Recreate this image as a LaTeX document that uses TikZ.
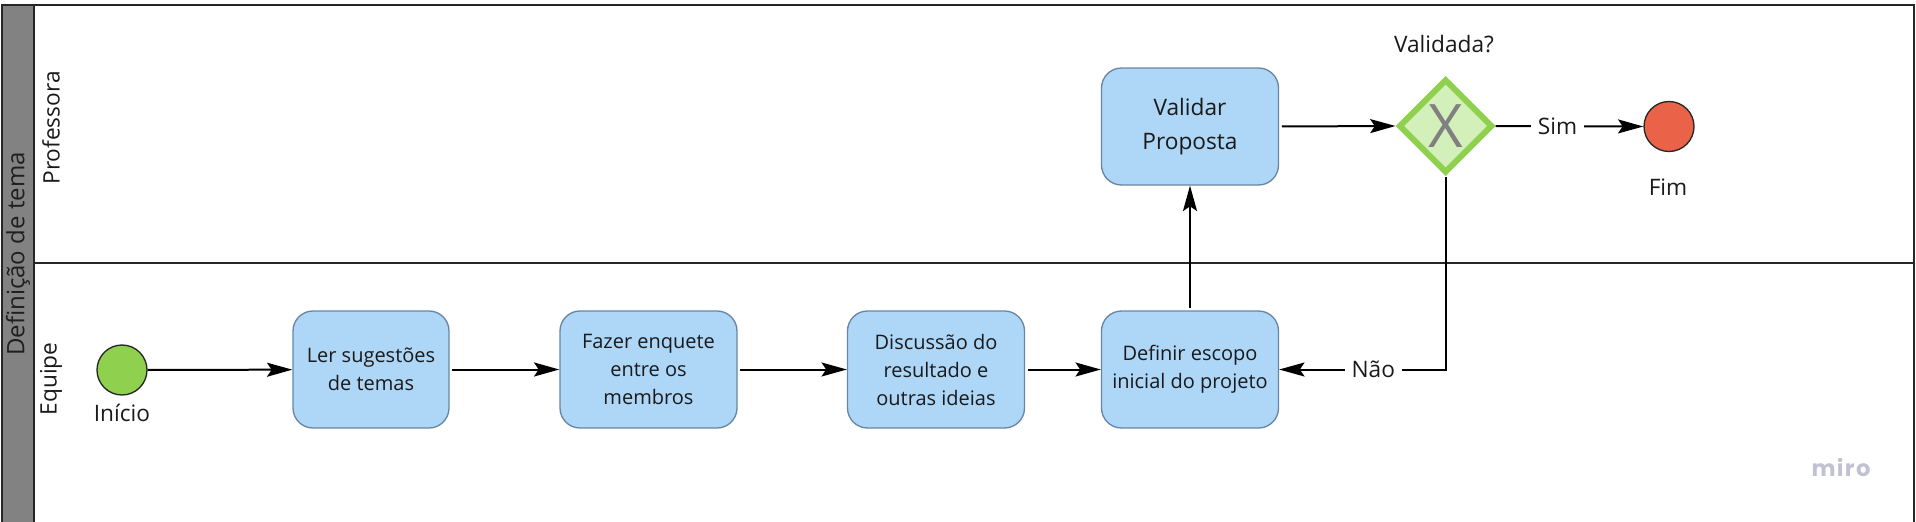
\documentclass[tikz,border=0pt]{standalone}
\usepackage{fontspec}
\setmainfont{Open Sans}
\newfontfamily\mirofont[LetterSpace=6]{Poppins}
\usetikzlibrary{arrows.meta,shapes.geometric}

\definecolor{taskfill}{RGB}{173,214,247}
\definecolor{taskdraw}{RGB}{105,135,165}
\definecolor{startgreen}{RGB}{143,209,79}
\definecolor{endred}{RGB}{234,99,72}
\definecolor{gwfill}{RGB}{212,240,186}
\definecolor{gwdraw}{RGB}{143,209,79}
\definecolor{poolgray}{RGB}{130,130,130}
\definecolor{txt}{RGB}{26,26,26}
\definecolor{mirogray}{RGB}{192,194,212}
\definecolor{xgray}{RGB}{128,128,128}

\begin{document}
\begin{tikzpicture}[x=0.75pt,y=-0.75pt,
  task/.style={rectangle,rounded corners=15pt,draw=taskdraw,line width=1pt,
    fill=taskfill,minimum width=132.75pt,minimum height=87.75pt,align=center,
    font=\fontsize{15}{21}\selectfont,text=txt,inner sep=0pt},
  bigtask/.style={task,font=\fontsize{17}{25}\selectfont},
  event/.style={circle,draw=black!85,line width=1pt,minimum size=37.5pt,inner sep=0pt},
  gateway/.style={diamond,draw=gwdraw,fill=gwfill,line width=4.5pt,
    minimum width=70.5pt,minimum height=70.5pt,inner sep=0pt,text=xgray,
    font=\fontsize{45}{45}\selectfont},
  lbl/.style={font=\fontsize{17}{20}\selectfont,text=txt,inner sep=1pt},
  lanelbl/.style={font=\fontsize{17}{20}\selectfont,text=txt,rotate=90,inner sep=0pt},
  flow/.style={line width=1.5pt,-{Stealth[length=19pt,width=10.5pt,inset=3.5pt]}},
  gaplbl/.style={lbl,fill=white,inner xsep=5pt,inner ysep=2pt},
  poolline/.style={line width=1.2pt,draw=black!85}
]
\useasboundingbox (0,0) rectangle (1916,521);
\clip (0,0) rectangle (1916,521);

% pool and lanes
\fill[white] (0,0) rectangle (1916,521);
\draw[poolline,fill=poolgray] (2,5) rectangle (34,560);
\draw[poolline] (34,5) rectangle (1914,560);
\coordinate (sepL) at (34,263);
\coordinate (sepR) at (1914,263);
\draw[poolline] (sepL) -- (sepR);

\node[lanelbl,text=black!88,font=\fontsize{18}{20}\selectfont] (pool) at (18,254) {Definição de tema};
\node[lanelbl] (lprof) at (51,128) {Professora};
\node[lanelbl] (lequipe) at (51,379) {Equipe};

% nodes
\node[event,fill=startgreen] (start) at (122,370) {};
\node[lbl] (inicio) at (122,413) {Início};

\node[task,minimum width=117pt] (b1) at (371,369.5) {Ler sugestões\\de temas};
\node[task] (b2) at (648.5,369.5) {Fazer enquete\\entre os\\membros};
\node[task] (b3) at (936,369.5) {Discussão do\\resultado e\\outras ideias};
\node[task] (b4) at (1190,369.5) {Definir escopo\\inicial do projeto};
\node[bigtask] (val) at (1190,126.5) {Validar\\Proposta};

\node[gateway] (gw) at (1445.5,126) {X};
\node[lbl] (gwlbl) at (1444,44) {Validada?};

\node[event,fill=endred] (fim) at (1669,126.5) {};
\node[lbl] (fimlbl) at (1668,187) {Fim};

\node[font=\mirofont\bfseries\fontsize{17}{17}\selectfont,text=mirogray] (miro) at (1841,468) {miro};

% connectors
\draw[flow] (start) -- (b1);
\draw[flow,shorten <=1.5pt] (b1) -- (b2);
\draw[flow,shorten <=1.5pt] (b2) -- (b3);
\draw[flow,shorten <=2pt] (b3) -- (b4);
\draw[flow,shorten <=1.5pt] (b4.north) -- (val.south);
\draw[flow,shorten <=2pt] (val.east) -- (gw.west);
\draw[flow] (gw.east) -- node[gaplbl,pos=0.42] {Sim} (fim.west);
\draw[flow,shorten <=1pt] (gw.south) |- node[gaplbl,pos=0.717] {Não} (b4.east);
\end{tikzpicture}
\end{document}
